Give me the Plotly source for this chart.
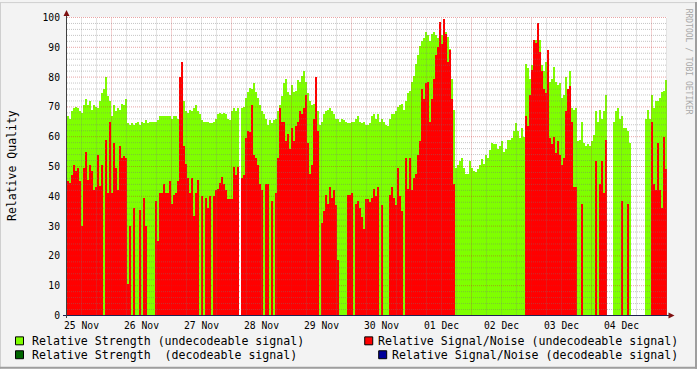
import plotly.graph_objects as go

# ---------------- data ----------------
day_labels = ["25 Nov", "26 Nov", "27 Nov", "28 Nov", "29 Nov",
              "30 Nov", "01 Dec", "02 Dec", "03 Dec", "04 Dec"]
label_hours = [12 + 24 * k for k in range(len(day_labels))]   # hours since 25 Nov 00:00

start_hour = 6.2      # first sample (hours since 25 Nov 00:00)
step_hours = 0.8      # sample step

# Relative Strength (undecodeable signal)
strength = [
    67, 66, 68.5, 69.5, 70, 69.5, 68.5, 68, 70.5, 72.5,
    70.5, 72, 69, 70.5, 70, 69.5, 72, 74.5, 76, 80,
    73.5, 72, 67, 70.5, 68.5, 69.5, 69, 71, 70.5, 72.5,
    64.5, 64, 64.5, 64, 64.5, 65, 64, 65, 64.5, 65.5,
    64.5, 65, 65, 65, 65, 65.5, 67, 67, 67, 67,
    # 26/27 Nov
    67, 67, 66, 67, 67, 66, 76, 83, 72, 68.5,
    68, 69, 68.5, 69.5, 70.5, 68.5, 67.5, 65.5, 65, 65,
    65, 64.5, 64.5, 65, 66, 67.5, 68, 67.5, 68, 67.5,
    66, 65.5, 68.5, 69.5, 68.5, 69.5, None, 69.5, 70, 73,
    75, 76.5, 76, 78, 75, 73, 70.5, 68.5, 67.5, 66,
    # 28/29 Nov
    64, 65.5, 64.5, 65.5, 66, 68.5, 70.5, 73.5, 78, 79.5,
    75, 74, 77.5, 75, 75.5, 79, 78.5, 80.5, 82, 78.5,
    74.5, 72, 70.5, 71, 72.5, 68.5, 64, 65, 67.5, 68.5,
    69, 69.5, 68.5, 67.5, 66, 66, 65, 66, 65.5, 65,
    64.5, 64.5, 65, 65, 66, 67, 65, 64.5, 65, 64,
    # 30 Nov / 01 Dec
    64, 64.5, 67, 67.5, 66, 67.5, 65, 66, 65, 64,
    63.5, 66, 67.5, 67.5, 68.5, 70, 70.5, 71, 69, 72,
    74.5, 75.5, 78.5, 80.5, 84.5, 87.5, 90.5, 92, 93, 95,
    94, 92, 94.5, 95, 94, 93, 95, 94, 91, 95,
    93.5, 89.5, 79.5, 69, 49.5, 50.5, 52, 53, 49.5, 47.5,
    # 02/03 Dec
    47.5, 52, 49.5, 48.5, 48, 49, 50.5, 52.5, 51, 54,
    53, 55.5, 58, 57.5, 57.5, 56, 57, 58.5, 55, 56,
    59, 59, 59.5, 62, 64.5, 62, 59.5, 63, 60, 84.5,
    83, 79.5, 84, 90.5, 92.5, 95, 92.5, 84, 82, 85,
    89, 78.5, 79.5, 83.5, 78.5, 77.5, 78, 73, 74, 80,
    # 03/04 Dec
    64, 82, 69.5, 69, 69.5, 58.5, 59, 65, 58, 57,
    57.5, 57, 58.5, 60.5, 68.5, 65, 69, 66, 68.5, 74,
    None, None, None, 65, 68.5, 69.5, 66, 67, 63, 63,
    62, 58, None, None, None, None, None, None, None, 66,
    69, 66, 74, 69.5, 72, 72, 73, 75, 75.5, 79,
]

# Relative Signal/Noise (undecodeable signal)
snr = [
    45, 44.5, 47, 50.5, 48.5, 49.5, 45, 30, 49.5, 55,
    45.5, 50.5, 48.5, 42, 43, 54, 43.5, 50.5, 0, 59,
    41, 65, 41, 58, 49.5, 42, 57, 53, 53.5, 53,
    10.5, 30, 0, 36, 0, 0, 35.5, 0, 39.5, 30,
    0, 0, 0, 0, 38.5, 25, 41, 41, 44, 41,
    # 26/27 Nov
    41, 45, 37.5, 40.5, 41, 45, 80, 85, 57, 51,
    46, 41, 46, 33.5, 41, 45.5, 0, 40, 0, 39.5,
    36, 40, 0, 40, 42, 42.5, 44.5, 46.5, 44, 42,
    39, 39, 39, 50, 47, 50, None, 46, 47, 59.5,
    62, 61.5, 70.5, 54, 53, 50.5, 44, 42, 0, 44,
    # 28/29 Nov
    44, 0, 38.5, 0, 41, 53, 69.5, 65, 65, 58.5,
    61, 56, 63, 58.5, 63.5, 65, 68.5, 67.5, 69.5, 74,
    58, 47.5, 50.5, 66, 80, 62, 0, 31, 35, 40.5,
    37.5, 43, 39.5, 42, 37, 18.5, 0, 0, 0, 0,
    40.5, 40.5, 41, 0, 37.5, 38.5, 36, 33, 29, 39,
    # 30 Nov / 01 Dec
    39, 38, 39.5, 42.5, 40, 43, 0, 37, 0, 0,
    0, 40.5, 43, 39.5, 37, 49.5, 40, 35, 0, 53,
    42.5, 53, 42, 46, 47.5, 54, 58.5, 76, 72.5, 78,
    78.5, 65, 72.5, 79.5, 87.5, 90, 98.5, 91, 99.5, 94.5,
    85, 89, 72.5, 44, 0, 0, 0, 0, 0, 0,
    # 02/03 Dec
    0, 0, 0, 0, 0, 0, 0, 0, 0, 0,
    0, 0, 0, 0, 0, 0, 0, 0, 0, 0,
    0, 0, 0, 0, 0, 0, 0, 0, 0, 67,
    63.5, 74, 82.5, 92.5, 91.5, 98, 88.5, 82, 76, 74.5,
    89, 59.5, 57.5, 60, 54.5, 58.5, 54, 50.5, 53, 68.5,
    # 03/04 Dec
    76, 77, 65, 43, 43, 0, 0, 37.5, 0, 0,
    0, 0, 0, 0, 52, 0, 44, 52, 41, 59,
    None, None, None, 0, 0, 0, 0, 38.5, 0, 0,
    37.5, 0, None, None, None, None, None, None, None, 0,
    0, 0, 65, 44, 42, 58, 42, 36, 60, 49,
]

legend_labels = ["Relative Strength (undecodeable signal)",
                 "Relative Signal/Noise (undecodeable signal)",
                 "Relative Strength  (decodeable signal)",
                 "Relative Signal/Noise (decodeable signal)"]
legend_colors = ["#7FFF00", "#FF0000", "#006600", "#000099"]

y_ticks = list(range(0, 101, 10))

# ---------------- geometry ----------------
W, H = 697, 369
L, R, T, B = 67, 30, 15, 53
PW, PH = W - L - R, H - T - B          # 600 x 301
X0 = start_hour
X1 = start_hour + step_hours * len(strength)
Y0, Y1 = -1 / 6, 100 + 1 / 6

def px(x):
    return (x - L) / PW

def py(y):
    return (H - B - y) / PH

FONT = "DejaVu Sans Mono"
LEG_SIZE = 11.6
CHAR_W = 0.602 * LEG_SIZE

xs = [start_hour + step_hours * (i + 0.5) for i in range(len(strength))]

fig = go.Figure()
fig.add_trace(go.Bar(x=xs, y=strength, width=step_hours,
                     marker=dict(color="#7FFF00", line=dict(width=0)),
                     showlegend=False, hoverinfo="skip"))
fig.add_trace(go.Bar(x=xs, y=snr, width=step_hours,
                     marker=dict(color="#FF0000", line=dict(width=0)),
                     showlegend=False, hoverinfo="skip"))

shapes = []
MAJ = "rgba(200,40,40,0.42)"
MIN = "rgba(120,120,120,0.42)"
# grid (drawn above data like rrdtool)
h = 12
while h < X1:
    major = (h % 24 == 0)
    shapes.append(dict(type="line", xref="x", yref="y", x0=h, x1=h, y0=0, y1=100,
                       layer="above",
                       line=dict(color=MAJ if major else MIN, width=1, dash="1px,1px")))
    h += 6
for v in range(2, 101, 2):
    major = (v % 10 == 0)
    shapes.append(dict(type="line", xref="paper", yref="y", x0=0, x1=1, y0=v, y1=v,
                       layer="above",
                       line=dict(color=MAJ if major else MIN, width=1, dash="1px,1px")))

# axes lines
shapes.append(dict(type="line", xref="paper", yref="paper", x0=px(63), x1=px(670),
                   y0=py(315.5), y1=py(315.5), layer="above",
                   line=dict(color="#202050", width=1)))
shapes.append(dict(type="line", xref="paper", yref="paper", x0=px(66.5), x1=px(66.5),
                   y0=py(318), y1=py(12), layer="above",
                   line=dict(color="#404040", width=1)))
# arrows
def tri(p):
    return "M " + " L ".join(f"{px(a):.5f},{py(b):.5f}" for a, b in p) + " Z"
shapes.append(dict(type="path", xref="paper", yref="paper", layer="above",
                   path=tri([(66.5, 8), (63.5, 14), (69.5, 14)]),
                   fillcolor="#7F1010", line=dict(width=0)))
shapes.append(dict(type="path", xref="paper", yref="paper", layer="above",
                   path=tri([(674.5, 315.5), (668.5, 312.5), (668.5, 318.5)]),
                   fillcolor="#7F1010", line=dict(width=0)))

# frame
shapes.append(dict(type="line", xref="paper", yref="paper", x0=px(0), x1=px(W),
                   y0=py(0.5), y1=py(0.5), line=dict(color="#CFCFCF", width=1)))
shapes.append(dict(type="line", xref="paper", yref="paper", x0=px(0.5), x1=px(0.5),
                   y0=py(0), y1=py(H), line=dict(color="#CFCFCF", width=1)))
shapes.append(dict(type="line", xref="paper", yref="paper", x0=px(0), x1=px(W),
                   y0=py(H - 1), y1=py(H - 1), line=dict(color="#9E9E9E", width=2)))
shapes.append(dict(type="line", xref="paper", yref="paper", x0=px(W - 1), x1=px(W - 1),
                   y0=py(0), y1=py(H), line=dict(color="#9E9E9E", width=2)))

annotations = []
# legend: left column left-aligned, right column right-justified (rrdtool \j)
rows_y = [341, 355]
for k, (lab, col) in enumerate(zip(legend_labels, legend_colors)):
    ly = rows_y[k // 2]
    if k % 2 == 0:
        tx = 30
    else:
        tx = 679.5 - len(lab) * CHAR_W
    sx = tx - 15
    shapes.append(dict(type="rect", xref="paper", yref="paper",
                       x0=px(sx + 0.5), x1=px(sx + 8.5), y0=py(ly - 4), y1=py(ly + 4),
                       fillcolor=col, line=dict(color="#000000", width=1)))
    if k % 2 == 0:
        annotations.append(dict(xref="paper", yref="paper", x=px(tx), y=py(ly),
                                xanchor="left", yanchor="middle", showarrow=False, text=lab,
                                font=dict(family=FONT, size=LEG_SIZE, color="#000000")))
    else:
        annotations.append(dict(xref="paper", yref="paper", x=px(679.5), y=py(ly),
                                xanchor="right", yanchor="middle", showarrow=False, text=lab,
                                font=dict(family=FONT, size=LEG_SIZE, color="#000000")))

annotations.append(dict(xref="paper", yref="paper", x=px(12), y=py(165),
                        xanchor="center", yanchor="middle", showarrow=False,
                        text="Relative Quality", textangle=-90,
                        font=dict(family=FONT, size=11.5, color="#000000")))
annotations.append(dict(xref="paper", yref="paper", x=px(688), y=py(60),
                        xanchor="center", yanchor="middle", showarrow=False,
                        text="RRDTOOL / TOBI OETIKER", textangle=90,
                        font=dict(family=FONT, size=8, color="#A8A8A8")))

fig.update_layout(
    width=W, height=H,
    margin=dict(l=L, r=R, t=T, b=B, pad=0),
    paper_bgcolor="#F3F3F3", plot_bgcolor="#FFFFFF",
    barmode="overlay", bargap=0, showlegend=False,
    shapes=shapes, annotations=annotations,
    xaxis=dict(range=[X0, X1], showgrid=False, zeroline=False, showline=False,
               tickmode="array", tickvals=label_hours, ticktext=day_labels, ticks="",
               tickfont=dict(family=FONT, size=9.7, color="#000000"),
               ticklabelstandoff=2, fixedrange=True),
    yaxis=dict(range=[Y0, Y1], showgrid=False, zeroline=False, showline=False,
               tickmode="array", tickvals=y_ticks, ticks="",
               tickfont=dict(family=FONT, size=9.7, color="#000000"),
               ticklabelstandoff=6, fixedrange=True),
)

fig.write_html("out.html")
